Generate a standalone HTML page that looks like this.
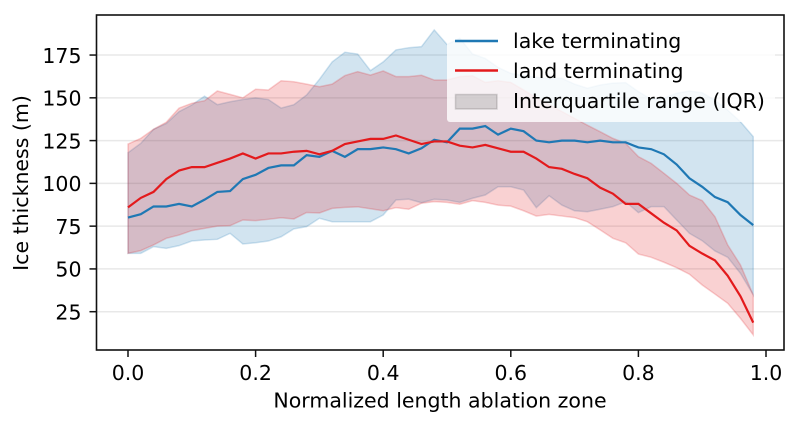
<!DOCTYPE html>
<html>
<head>
<meta charset="utf-8">
<style>
html,body{margin:0;padding:0;background:#fff;width:799px;height:426px;overflow:hidden}
svg{display:block;filter:blur(0.3px)}
text{font-family:"DejaVu Sans","Liberation Sans",sans-serif;fill:#000}
</style>
</head>
<body>
<svg id="chart" width="799" height="426" viewBox="0 0 799 426" xmlns="http://www.w3.org/2000/svg">
  <rect x="0" y="0" width="799" height="426" fill="#fff"/>
  <g id="grid"></g>
  <g id="bands"></g>
  <g id="lines"></g>
  <g id="legend">
    <rect x="447" y="22" width="328" height="100" rx="3" fill="#fff" fill-opacity="0.8"/>
    <line x1="455" x2="498" y1="41" y2="41" stroke="#1f78b4" stroke-width="2.4"/>
    <text x="513" y="48" font-size="20.5">lake terminating</text>
    <line x1="455" x2="498" y1="70.5" y2="70.5" stroke="#e31a1c" stroke-width="2.4"/>
    <text x="513" y="78" font-size="20.5">land terminating</text>
    <rect x="455.5" y="94.5" width="41.5" height="14.5" fill="#000" fill-opacity="0.14" stroke="#000" stroke-opacity="0.14" stroke-width="1.5"/>
    <text x="513" y="108" font-size="20.5">Interquartile range (IQR)</text>
  </g>
  <g id="axes"></g>
  <rect x="96.5" y="15" width="687.5" height="335" fill="none" stroke="#111" stroke-width="1.6"/>
  <text x="440" y="407.5" font-size="20.5" text-anchor="middle">Normalized length ablation zone</text>
  <text transform="translate(28,183) rotate(-90)" font-size="20.5" text-anchor="middle">Ice thickness (m)</text>
</svg>
<script>
const positions = [0,0.02,0.04,0.06,0.08,0.1,0.12,0.14,0.16,0.18,0.2,0.22,0.24,0.26,0.28,0.3,0.32,0.34,0.36,0.38,0.4,0.42,0.44,0.46,0.48,0.5,0.52,0.54,0.56,0.58,0.6,0.62,0.64,0.66,0.68,0.7,0.72,0.74,0.76,0.78,0.8,0.82,0.84,0.86,0.88,0.9,0.92,0.94,0.96,0.98];
const lakeMean = [80,82,86.5,86.5,88,86.5,90.5,95,95.5,102.5,105,109,110.5,110.5,116.5,115.5,119,115.5,120,120,121,120,117.5,120.5,125.5,124,132,132,133.5,128.5,132,130.5,125,124,125,125,124,125,124,124,121,120,117,111,103,98,92,89,81.5,75.6];
const lakeUpper = [117.9,123.4,131.6,135,141.9,145.8,151,146,147.7,149,150,149,144,146,151.7,160.8,171,176.6,175.6,165.9,171,178,179.3,179.9,189.7,181.2,184.8,175.6,173,167.8,164.3,163,162,161,161.4,158,155.6,157.5,158.6,158.9,153.6,149.2,149.8,152.7,154,153,148.6,142.8,136,127.3];
const lakeLower = [59.1,59.1,63,62,63.6,66.3,66.9,67.3,70.8,64.6,65.3,66.3,68.8,73.4,74.7,79.6,77.6,77.6,77.6,77.6,81.5,90.3,90.8,88.7,90.7,90.3,88.9,91.3,93.2,98,98,96.1,85.8,92.8,87.3,84,83.4,84.9,86.4,89.3,82.9,86.4,86.4,78.6,70.8,66.5,60.5,56.8,47.4,34.8];
const landMean = [86,91.5,95,102.5,107.5,109.5,109.5,112,114.5,117.5,114.5,117.5,117.5,118.5,119,117,119,123,124.5,126,126,128,125.5,123,124.5,124.5,122,121,122.5,120.5,118.5,118.5,114.5,109.5,108.5,105.5,103,97.5,94,88,88,82.5,77,72.5,63.5,59,55,46,34,18.6];
const landUpper = [123,126.3,131.6,135.7,144,146.8,148.3,154,152,150,155,154.6,160,159.4,158,156.5,158,163,165.3,163.3,165.7,162.4,162.4,163.2,160.4,160.4,162.4,162.9,159,160,159,154.6,150,146,142,138,134,130.2,126.3,123.4,115.6,111.7,105.9,100,93.2,89.9,80.5,64,52.3,34.8];
const landLower = [59.1,60.7,64,67.9,69.8,72.4,73.7,75,75.3,78.6,78.2,79,79.9,79.2,83,82.7,85.4,86,86.3,85.2,84,85.8,84.9,88.4,89.3,88.9,87.8,89.9,88.9,87.3,86.7,84,80.9,81.9,80.9,80,77.6,72.8,67.9,65.3,58.7,56.8,53.9,50.7,46.9,40.6,35.3,29.9,21.1,11.4];
const xTicks = [0,0.2,0.4,0.6,0.8,1];
const xTickLabels = ["0.0","0.2","0.4","0.6","0.8","1.0"];
const yTicks = [25,50,75,100,125,150,175];
const yTickLabels = ["25","50","75","100","125","150","175"];

const SVG_NS = 'http://www.w3.org/2000/svg';
function xScale(v){ return 128 + v * 638; }
function yScale(v){ return 311.7 - (v - 25) * 1.711; }
function make(tag, parent){
  const el = document.createElementNS(SVG_NS, tag);
  parent.appendChild(el);
  return el;
}
function linePath(vals){
  return vals.map((v,i)=>(i?'L':'M')+xScale(positions[i]).toFixed(2)+' '+yScale(v).toFixed(2)).join(' ');
}
function bandPath(up, lo){
  let d = linePath(up);
  for(let i=lo.length-1;i>=0;i--){
    d += ' L'+xScale(positions[i]).toFixed(2)+' '+yScale(lo[i]).toFixed(2);
  }
  return d + ' Z';
}
const gridG = document.getElementById('grid');
const axesG = document.getElementById('axes');
const bandsG = document.getElementById('bands');
const linesG = document.getElementById('lines');

yTicks.forEach((t,i)=>{
  const y = yScale(t);
  const g = make('line', gridG);
  
  
  g.setAttribute('x1', 96.5); g.setAttribute('x2', 784);
  g.setAttribute('y1', y); g.setAttribute('y2', y);
  g.setAttribute('stroke', '#000'); g.setAttribute('stroke-opacity', '0.09'); g.setAttribute('stroke-width', '1.5');
  const m = make('line', axesG);
  
  
  m.setAttribute('x1', 89.5); m.setAttribute('x2', 96.5);
  m.setAttribute('y1', y); m.setAttribute('y2', y);
  m.setAttribute('stroke', '#111'); m.setAttribute('stroke-width', '1.5');
  const l = make('text', axesG);
  
  
  l.setAttribute('x', 81.5); l.setAttribute('y', y + 7.8);
  l.setAttribute('font-size', '20.5'); l.setAttribute('text-anchor', 'end');
  l.textContent = yTickLabels[i];
});
xTicks.forEach((t,i)=>{
  const x = xScale(t);
  const m = make('line', axesG);
  
  
  m.setAttribute('x1', x); m.setAttribute('x2', x);
  m.setAttribute('y1', 350); m.setAttribute('y2', 357);
  m.setAttribute('stroke', '#111'); m.setAttribute('stroke-width', '1.5');
  const l = make('text', axesG);
  
  
  l.setAttribute('x', x); l.setAttribute('y', 380);
  l.setAttribute('font-size', '20.5'); l.setAttribute('text-anchor', 'middle');
  l.textContent = xTickLabels[i];
});

const lakeBand = make('path', bandsG);


lakeBand.setAttribute('d', bandPath(lakeUpper, lakeLower));
lakeBand.setAttribute('fill', '#1f78b4'); lakeBand.setAttribute('fill-opacity', '0.2');
lakeBand.setAttribute('stroke', '#1f78b4'); lakeBand.setAttribute('stroke-opacity', '0.2'); lakeBand.setAttribute('stroke-width', '1.5');

const landBand = make('path', bandsG);


landBand.setAttribute('d', bandPath(landUpper, landLower));
landBand.setAttribute('fill', '#e31a1c'); landBand.setAttribute('fill-opacity', '0.2');
landBand.setAttribute('stroke', '#e31a1c'); landBand.setAttribute('stroke-opacity', '0.2'); landBand.setAttribute('stroke-width', '1.5');

const lakeLine = make('path', linesG);


lakeLine.setAttribute('d', linePath(lakeMean));
lakeLine.setAttribute('fill', 'none'); lakeLine.setAttribute('stroke', '#1f78b4'); lakeLine.setAttribute('stroke-width', '2.2');

const landLine = make('path', linesG);


landLine.setAttribute('d', linePath(landMean));
landLine.setAttribute('fill', 'none'); landLine.setAttribute('stroke', '#e31a1c'); landLine.setAttribute('stroke-width', '2.2');
</script>
</body>
</html>
